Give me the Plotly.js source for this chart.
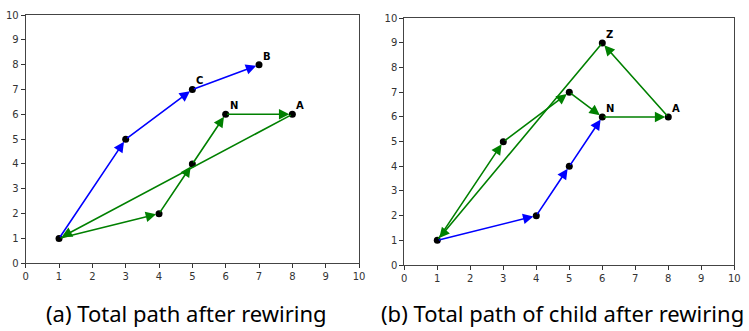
<!DOCTYPE html>
<html><head><meta charset="utf-8">
<script src="https://cdn.plot.ly/plotly-3.0.1.min.js"></script>
<style>html,body{margin:0;padding:0;background:#fff}</style>
</head><body><div id="chart" style="width:749px;height:331px"></div>
<script>
// Panel (a)
const aNodesX = [1, 3, 5, 7, 4, 5, 6, 8];
const aNodesY = [1, 5, 7, 8, 2, 4, 6, 6];
const aBlueFrom = [[1,1],[3,5],[5,7]];
const aBlueTo   = [[3,5],[5,7],[7,8]];
const aGreenFrom = [[1,1],[4,2],[5,4],[6,6],[8,6]];
const aGreenTo   = [[4,2],[5,4],[6,6],[8,6],[1,1]];
const aLabels = ['B','C','N','A'];
const aLabelX = [7, 5, 6, 8];
const aLabelY = [8, 7, 6, 6];
// Panel (b)
const bNodesX = [1, 3, 5, 6, 8, 6, 4, 5];
const bNodesY = [1, 5, 7, 6, 6, 9, 2, 4];
const bGreenFrom = [[1,1],[3,5],[5,7],[6,6],[8,6],[6,9]];
const bGreenTo   = [[3,5],[5,7],[6,6],[8,6],[6,9],[1,1]];
const bBlueFrom = [[1,1],[4,2],[5,4]];
const bBlueTo   = [[4,2],[5,4],[6,6]];
const bLabels = ['Z','N','A'];
const bLabelX = [6, 6, 8];
const bLabelY = [9, 6, 6];
const tickVals = [0,1,2,3,4,5,6,7,8,9,10];
const captions = ['(a) Total path after rewiring', '(b) Total path of child after rewiring'];

const BLUE = '#0000ff', GREEN = '#008000';
const annotations = [];
function arrows(from, to, color, xr, yr){
  for (let i=0;i<from.length;i++){
    annotations.push({x: to[i][0], y: to[i][1], ax: from[i][0], ay: from[i][1],
      xref: xr, yref: yr, axref: xr, ayref: yr, showarrow: true, text: '',
      arrowhead: 2, arrowsize: 1.3, arrowwidth: 1.6, arrowcolor: color, standoff: 3});
  }
}
arrows(aBlueFrom, aBlueTo, BLUE, 'x', 'y');
arrows(aGreenFrom, aGreenTo, GREEN, 'x', 'y');
arrows(bGreenFrom, bGreenTo, GREEN, 'x2', 'y2');
arrows(bBlueFrom, bBlueTo, BLUE, 'x2', 'y2');
function labels(t, xs, ys, xr, yr){
  for (let i=0;i<t.length;i++){
    annotations.push({x: xs[i], y: ys[i], xref: xr, yref: yr, text: '<b>'+t[i]+'</b>',
      showarrow: false, xanchor: 'left', yanchor: 'bottom', xshift: 2, yshift: 1,
      font: {family: 'DejaVu Sans', size: 10, color: '#000'}});
  }
}
labels(aLabels, aLabelX, aLabelY, 'x', 'y');
labels(bLabels, bLabelX, bLabelY, 'x2', 'y2');
annotations.push({xref:'paper', yref:'paper', x: 186.7/749, y: 1-313/331, text: captions[0], showarrow:false,
  xanchor:'center', yanchor:'middle', font:{family:'Noto Sans', size:22, color:'#000'}});
annotations.push({xref:'paper', yref:'paper', x: 562.5/749, y: 1-313/331, text: captions[1], showarrow:false,
  xanchor:'center', yanchor:'middle', font:{family:'Noto Sans', size:22, color:'#000'}});

const traces = [
  {x: aNodesX, y: aNodesY, xaxis:'x', yaxis:'y', mode:'markers', type:'scatter',
   marker:{color:'#000', size:7}, hoverinfo:'skip'},
  {x: bNodesX, y: bNodesY, xaxis:'x2', yaxis:'y2', mode:'markers', type:'scatter',
   marker:{color:'#000', size:7}, hoverinfo:'skip'}
];
const ax = {range:[0,10], tickvals: tickVals, ticks:'outside', ticklen:4, tickcolor:'#333',
  showgrid:false, zeroline:false, showline:true, mirror:true, linecolor:'#444', linewidth:1,
  tickfont:{family:'DejaVu Sans', size:10, color:'#333'}, fixedrange:true};
const layout = {
  width: 749, height: 331, margin:{l:0,r:0,t:0,b:0}, showlegend:false,
  paper_bgcolor:'#fff', plot_bgcolor:'#fff',
  xaxis: Object.assign({}, ax, {domain:[25.7/749, 359/749], anchor:'y'}),
  yaxis: Object.assign({}, ax, {domain:[1-263.3/331, 1-15/331], anchor:'x'}),
  xaxis2: Object.assign({}, ax, {domain:[404.3/749, 734.3/749], anchor:'y2'}),
  yaxis2: Object.assign({}, ax, {domain:[1-265/331, 1-18.3/331], anchor:'x2'}),
  annotations: annotations
};
Plotly.newPlot('chart', traces, layout, {staticPlot:true, displayModeBar:false});
</script></body></html>
